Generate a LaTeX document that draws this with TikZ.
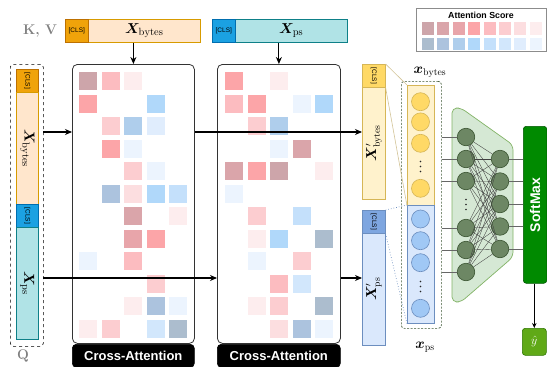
\documentclass[tikz,border=0pt]{standalone}
\usepackage{fontspec}
\usepackage{amsmath,bm,graphicx}
\newfontfamily\sansf{Liberation Sans}
\usetikzlibrary{arrows.meta}

% token boxes
\definecolor{cOrg}{HTML}{F0A30A}   \definecolor{cOrgD}{HTML}{BD7000}
\definecolor{cPeach}{HTML}{FFE6CC} \definecolor{cPeachD}{HTML}{D79B00}
\definecolor{cBlu}{HTML}{1BA1E2}   \definecolor{cBluD}{HTML}{006EAF}
\definecolor{cTeal}{HTML}{B0E3E6}  \definecolor{cTealD}{HTML}{0E8088}
\definecolor{cYel}{HTML}{FFD966}   \definecolor{cYelD}{HTML}{D6B656}
\definecolor{cYelL}{HTML}{FFF2CC}
\definecolor{cLB}{HTML}{7EA6E0}    \definecolor{cLBD}{HTML}{6C8EBF}
\definecolor{cLBL}{HTML}{DAE8FC}   \definecolor{cCirB}{RGB}{160,200,245}
% classifier
\definecolor{cNN}{HTML}{6D8764}    \definecolor{cNND}{HTML}{3A5431}
\definecolor{cTrap}{HTML}{D5E8D4}  \definecolor{cTrapD}{HTML}{82B366}
\definecolor{cSM}{HTML}{008A00}    \definecolor{cSMD}{HTML}{005700}
\definecolor{cHat}{HTML}{60A917}   \definecolor{cHatD}{HTML}{2D7600}
% attention score scale
\definecolor{R1}{RGB}{205,165,170} \definecolor{R2}{RGB}{218,165,170}
\definecolor{R3}{RGB}{232,165,170} \definecolor{R4}{RGB}{252,165,168}
\definecolor{R5}{RGB}{252,188,192} \definecolor{R6}{RGB}{252,205,208}
\definecolor{R7}{RGB}{252,222,224} \definecolor{R8}{RGB}{253,237,238}
\definecolor{B1}{RGB}{172,189,206} \definecolor{B2}{RGB}{172,195,222}
\definecolor{B3}{RGB}{175,206,236} \definecolor{B4}{RGB}{176,216,250}
\definecolor{B5}{RGB}{196,224,251} \definecolor{B6}{RGB}{210,231,252}
\definecolor{B7}{RGB}{224,237,253} \definecolor{B8}{RGB}{236,244,254}

\newcommand\lblsize{\fontsize{15}{17}\selectfont}
\newcommand\clsfont{\sansf\fontsize{6.5}{7}\selectfont}

\begin{document}
\begin{tikzpicture}[x=1pt,y=-1pt,
  box/.style={draw, inner sep=0pt, anchor=north west, line width=0.6pt},
  arr/.style={-{Stealth[length=7pt,width=6pt]}, line width=1.1pt},
  attbox/.style={box, fill=white, draw=black!80, line width=0.8pt, rounded corners=5pt},
  attlab/.style={box, fill=black, rounded corners=4pt, text=white,
                 font=\sansf\bfseries\fontsize{13}{15}\selectfont},
  ycirc/.style={circle, draw=cYelD, fill=cYel, minimum size=18pt, inner sep=0pt, line width=0.6pt},
  bcirc/.style={circle, draw=cLBD, fill=cCirB, minimum size=18pt, inner sep=0pt, line width=0.6pt},
  nn/.style={circle, draw=cNND, fill=cNN, minimum size=17.5pt, inner sep=0pt, line width=0.6pt},
  graylbl/.style={text=black!50, font=\bfseries\fontsize{14}{16}\selectfont},
  vdot/.style={fill=black!85}
]
\useasboundingbox (0,0) rectangle (547,367);

% ---------- key / value inputs ----------
\node[graylbl] (kv) at (40,31) {K, V};
\node[box, fill=cPeach, draw=cPeachD, minimum width=112, minimum height=23] (kvb) at (88,19)
  {\lblsize$\bm{X}_{\mathrm{bytes}}$};
\node[box, fill=cOrg, draw=cOrgD, minimum width=23, minimum height=23] (kvcls) at (65,19) {\clsfont[CLS]};
\node[box, fill=cTeal, draw=cTealD, minimum width=112, minimum height=23] (psb) at (235,19)
  {\lblsize$\bm{X}_{\mathrm{ps}}$};
\node[box, fill=cBlu, draw=cBluD, minimum width=23, minimum height=23] (pscls) at (212,19) {\clsfont[CLS]};

% ---------- query stack ----------
\node[box, dashed, rounded corners=3pt, minimum width=33, minimum height=282] (qpanel) at (10,64) {};
\node[box, fill=cOrg, draw=cOrgD, minimum width=22, minimum height=23] (qcls1) at (16,69)
  {\rotatebox{-90}{\clsfont[CLS]}};
\node[box, fill=cPeach, draw=cPeachD, minimum width=22, minimum height=112] (qbytes) at (16,92)
  {\rotatebox{-90}{\lblsize$\bm{X}_{\mathrm{bytes}}$}};
\node[box, fill=cBlu, draw=cBluD, minimum width=22, minimum height=23] (qcls2) at (16,204)
  {\rotatebox{-90}{\clsfont[CLS]}};
\node[box, fill=cTeal, draw=cTealD, minimum width=22, minimum height=112] (qps) at (16,227)
  {\rotatebox{-90}{\lblsize$\bm{X}_{\mathrm{ps}}$}};
\node[graylbl] (qlbl) at (23,356) {Q};

% ---------- cross-attention blocks ----------
\node[attbox, minimum width=122, minimum height=279] (att1) at (72,64) {};
\node[attbox, minimum width=123, minimum height=279] (att2) at (217,64) {};
\node[attlab, minimum width=122, minimum height=23] (lab1) at (72,344) {Cross-Attention};
\node[attlab, minimum width=123, minimum height=23] (lab2) at (217,344) {Cross-Attention};

% attention scores of block 1
\foreach \c/\r/\col in {0/0/R1,1/0/R5,2/0/R8, 0/1/R4,3/1/B4, 1/2/R6,2/2/B3,3/2/B7,
  1/3/R4,2/3/B8, 2/4/R6,3/4/B8, 1/5/B2,2/5/R7,3/5/B4,4/5/B5, 2/6/R2,4/6/R8,
  2/7/R3,3/7/R4, 0/8/B8,2/8/R5, 3/9/R6, 2/10/R8,3/10/B2,4/10/B8,
  0/11/R8,1/11/R6,3/11/B6,4/11/B1}
  \fill[\col] ({79+22.5*\c},{72+22.5*\r}) rectangle +(18,18);
% attention scores of block 2
\foreach \c/\r/\col in {0/0/R4,2/0/R8, 0/1/R5,1/1/R4,3/1/B8,4/1/B4, 1/2/R6,2/2/B3,
  2/3/B8,3/3/R2, 0/4/R2,1/4/R4,2/4/R1,4/4/R8, 0/5/B8, 1/6/R6,3/6/B5,
  1/7/R8,2/7/B4,4/7/B1, 1/8/B8,3/8/R6, 2/9/R5,3/9/B6, 1/10/R8,2/10/R6,4/10/B1,
  2/11/R7,3/11/B2,4/11/B8}
  \fill[\col] ({225+22.5*\c},{72+22.5*\r}) rectangle +(18,18);

% ---------- attention score legend ----------
\node[box, draw=black!45, line width=0.6pt, minimum width=130, minimum height=43] (legend) at (416,8) {};
\node[font=\sansf\bfseries\fontsize{8.8}{10}\selectfont] (legtitle) at (481,15) {Attention Score};
\foreach \i in {1,...,8} {
  \fill[R\i] ({422+15.4*(\i-1)},22) rectangle +(12,12.5);
  \fill[B\i] ({422+15.4*(\i-1)},37.5) rectangle +(12,12.5);
}

% ---------- updated token sequences ----------
\node[box, fill=cYelL, draw=cYelD, minimum width=23, minimum height=112] (xbp) at (362,87)
  {\rotatebox{90}{\fontsize{13.5}{15}\selectfont$\bm{X}'_{\mathrm{bytes}}$}};
\node[box, fill=cYel, draw=cYelD, minimum width=23, minimum height=23] (xbcls) at (362,64)
  {\rotatebox{-90}{\clsfont[CLS]}};
\node[box, fill=cLBL, draw=cLBD, minimum width=23, minimum height=112] (xpp) at (362,233)
  {\rotatebox{90}{\fontsize{13.5}{15}\selectfont$\bm{X}'_{\mathrm{ps}}$}};
\node[box, fill=cLB, draw=cLBD, minimum width=23, minimum height=23] (xpcls) at (362,210)
  {\rotatebox{-90}{\clsfont[CLS]}};

% ---------- data flow ----------
\coordinate (qbOut) at (43,132);
\coordinate (qpOut) at (43,278);
\draw[arr] (att1.north |- kvb.south) -- (att1.north);
\draw[arr] (att2.north |- psb.south) -- (att2.north);
\draw[arr] (qbOut) -- (qbOut -| att1.west);
\draw[arr] (qbOut -| att1.east) -- (qbOut -| xbp.west);
\draw[arr] (qpOut) -- (qpOut -| att2.west);
\draw[arr] (qpOut -| att2.east) -- (qpOut -| xpp.west);

% ---------- CLS embeddings ----------
\node[box, draw=cNND, dash pattern=on 2pt off 1.5pt, rounded corners=3pt, line width=0.7pt,
      minimum width=40, minimum height=247] (colbox) at (401,81) {};
\node[box, fill=cYelL, draw=cYelD, minimum width=27, minimum height=120] (ybar) at (407,85) {};
\node[box, fill=cLBL, draw=cLBD, minimum width=27, minimum height=118] (bbar) at (407,205) {};
\draw[draw={rgb,255:red,210;green,195;blue,150}, line width=0.6pt] (xbcls.north east) -- (ybar.north west);
\draw[draw={rgb,255:red,210;green,195;blue,150}, line width=0.6pt] (xbcls.south east) -- (ybar.south west);
\draw[draw=cLBD, dotted, line width=0.7pt] (xpcls.north east) -- (bbar.north west);
\draw[draw=cLBD, dotted, line width=0.7pt] (xpcls.south east) -- (bbar.south west);
\node[ycirc] (yc1) at (420.5,101.7) {};
\node[ycirc] (yc2) at (420.5,121.9) {};
\node[ycirc] (yc3) at (420.5,143.3) {};
\node[ycirc] (yc4) at (420.5,188.3) {};
\node[bcirc] (bc1) at (420.5,219) {};
\node[bcirc] (bc2) at (420.5,240.7) {};
\node[bcirc] (bc3) at (420.5,262.7) {};
\node[bcirc] (bc4) at (420.5,308.3) {};
% elided embedding entries
\foreach \yy in {161.5,166.5,171.5,281.5,286.5,291.5}
  \fill[vdot] (420.5,\yy) circle (0.9);
\node[font=\fontsize{14}{16}\selectfont] (xblbl) at (430,72) {$\bm{x}_{\mathrm{bytes}}$};
\node[font=\fontsize{14}{16}\selectfont] (xplbl) at (425,347) {$\bm{x}_{\mathrm{ps}}$};

% ---------- classifier ----------
\draw[fill=cTrap, draw=cTrapD, line width=0.7pt, rounded corners=5pt]
  (452,108) -- (461,108) -- (513,145) -- (513,257) -- (461,302) -- (452,302) -- cycle;
\foreach \i/\yy in {1/137,2/159,3/181,4/228,5/250,6/272}
  \node[nn] (nl\i) at (466,\yy) {};
\foreach \yy in {199.5,204.5,209.5}
  \fill[vdot] (466,\yy) circle (0.9);
\foreach \j/\yy in {1/159,2/181.5,3/204,4/226.5,5/249}
  \node[nn] (nr\j) at (500,\yy) {};
\foreach \i in {1,...,6}
  \foreach \j in {1,...,5}
    \draw[black!75, line width=0.35pt] (nl\i) -- (nr\j);

\node[box, fill=cSM, draw=cSMD, rounded corners=3pt, minimum width=23.5, minimum height=157,
      text=white, font=\sansf\bfseries\fontsize{14}{16}\selectfont] (sm) at (523,126)
  {\rotatebox{90}{SoftMax}};
\node[box, fill=cHat, draw=cHatD, rounded corners=3pt, minimum width=24, minimum height=27,
      text=white, font=\fontsize{12}{14}\selectfont] (yhat) at (522,328) {$\hat{y}$};

\foreach \i in {1,...,6}
  \draw[black!60, line width=0.8pt] (colbox.east |- nl\i) -- (nl\i);
\foreach \j in {1,...,5}
  \draw[black!60, line width=0.8pt] (nr\j) -- (nr\j -| sm.west);
\draw[-{Stealth[length=5pt,width=4.5pt]}, line width=0.8pt] (sm.south -| yhat.north) -- (yhat.north);
\end{tikzpicture}
\end{document}
